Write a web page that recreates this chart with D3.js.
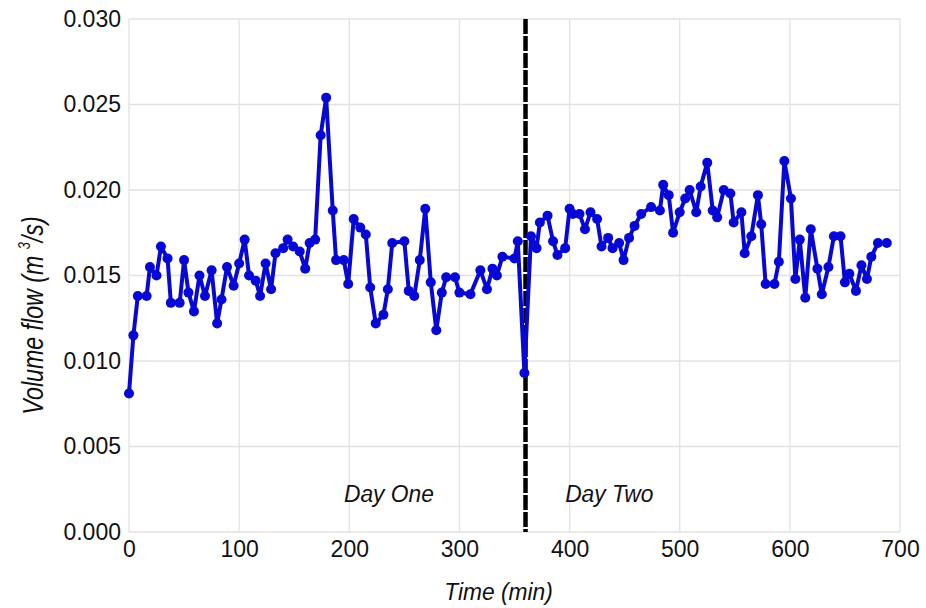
<!DOCTYPE html>
<html>
<head>
<meta charset="utf-8">
<script src="https://cdn.jsdelivr.net/npm/d3@7"></script>
<style>
  body { margin: 0; background: #fff; }
  text { font-family: "Liberation Sans", Arial, sans-serif; fill: #111; }
</style>
</head>
<body>
<div id="chart"></div>
<script>
// Time of each reading (min)
const time = [0, 4, 8, 16, 19, 25, 29, 35, 38, 46, 50, 54, 59, 64, 69, 75, 80, 84, 89, 95,
  100, 105, 109, 115, 119, 124, 129, 133, 140, 144, 149, 155, 160, 164, 169, 174, 179, 185, 188, 195,
  199, 204, 210, 215, 219, 224, 231, 235, 239, 250, 254, 259, 264, 269, 274, 279, 284, 288, 296, 300,
  310, 319, 325, 330, 334, 339, 350, 353, 359, 365, 370, 373, 380, 385, 389, 396, 400, 403, 409, 414,
  419, 425, 429, 435, 439, 445, 449, 454, 459, 465, 474, 482, 485, 490, 494, 500, 505, 509, 515, 519,
  525, 530, 534, 540, 546, 549, 556, 559, 565, 571, 574, 578, 586, 590, 595, 601, 605, 609, 614, 619,
  625, 629, 635, 640, 646, 650, 654, 660, 665, 670, 674, 680, 688];

// Volume flow (m3/s)
const flow = [0.0081, 0.0115, 0.0138, 0.0138, 0.0155, 0.0150, 0.0167, 0.0160, 0.0134, 0.0134,
  0.0159, 0.0140, 0.0129, 0.0150, 0.0138, 0.0153, 0.0122, 0.0136, 0.0155, 0.0144,
  0.0157, 0.0171, 0.0150, 0.0147, 0.0138, 0.0157, 0.0142, 0.0163, 0.0166, 0.0171,
  0.0167, 0.0164, 0.0154, 0.0169, 0.0171, 0.0232, 0.0254, 0.0188, 0.0159, 0.0159,
  0.0145, 0.0183, 0.0178, 0.0174, 0.0143, 0.0122, 0.0127, 0.0142, 0.0169, 0.0170,
  0.0141, 0.0138, 0.0159, 0.0189, 0.0146, 0.0118, 0.0140, 0.0149, 0.0149, 0.0140,
  0.0139, 0.0153, 0.0142, 0.0154, 0.0150, 0.0161, 0.0160, 0.0170, 0.0093, 0.0173,
  0.0166, 0.0181, 0.0185, 0.0170, 0.0162, 0.0166, 0.0189, 0.0186, 0.0186, 0.0177,
  0.0187, 0.0183, 0.0167, 0.0172, 0.0166, 0.0169, 0.0159, 0.0172, 0.0179, 0.0186,
  0.0190, 0.0188, 0.0203, 0.0197, 0.0175, 0.0187, 0.0195, 0.0200, 0.0187, 0.0202,
  0.0216, 0.0188, 0.0184, 0.0200, 0.0198, 0.0181, 0.0187, 0.0163, 0.0173, 0.0197,
  0.0180, 0.0145, 0.0145, 0.0158, 0.0217, 0.0195, 0.0148, 0.0171, 0.0137, 0.0177,
  0.0154, 0.0139, 0.0155, 0.0173, 0.0173, 0.0146, 0.0151, 0.0141, 0.0156, 0.0148,
  0.0161, 0.0169, 0.0169];

const xTicks = [0, 100, 200, 300, 400, 500, 600, 700];
const yTicks = [0, 0.005, 0.010, 0.015, 0.020, 0.025, 0.030];
const dayBreak = 360;
const dayLabels = [{label: "Day One", t: 236}, {label: "Day Two", t: 436}];

const W = 926, H = 608;
const margin = {top: 19, right: 26, bottom: 76, left: 129};
const width = W - margin.left - margin.right;
const height = H - margin.top - margin.bottom;

const svg = d3.select("#chart")
    .append("svg")
    .attr("width", W)
    .attr("height", H)
    .append("g")
    .attr("transform", `translate(${margin.left},${margin.top})`);

const x = d3.scaleLinear().domain([0, 700]).range([0, width]);
const y = d3.scaleLinear().domain([0, 0.030]).range([height, 0]);

// grid lines
svg.append("g")
    .selectAll("line")
    .data(xTicks)
    .enter().append("line")
    .attr("x1", d => x(d)).attr("x2", d => x(d))
    .attr("y1", 0).attr("y2", height)
    .attr("stroke", "#e2e2e2").attr("stroke-width", 1.3);

svg.append("g")
    .selectAll("line")
    .data(yTicks)
    .enter().append("line")
    .attr("x1", 0).attr("x2", width)
    .attr("y1", d => y(d)).attr("y2", d => y(d))
    .attr("stroke", "#e2e2e2").attr("stroke-width", 1.3);

// axes (labels only, no domain line)
const xAxis = svg.append("g")
    .attr("transform", `translate(0,${height})`)
    .call(d3.axisBottom(x).tickValues(xTicks).tickSize(0).tickPadding(9).tickFormat(d3.format("d")));
xAxis.select(".domain").remove();
xAxis.selectAll("text").style("font-size", "23px").style("fill", "#111");

const yAxis = svg.append("g")
    .call(d3.axisLeft(y).tickValues(yTicks).tickSize(0).tickPadding(8).tickFormat(d3.format(".3f")));
yAxis.select(".domain").remove();
yAxis.selectAll("text").style("font-size", "23px").style("fill", "#111");

// day separator
svg.append("line")
    .attr("x1", x(dayBreak)).attr("x2", x(dayBreak))
    .attr("y1", 0).attr("y2", height)
    .attr("stroke", "#000")
    .attr("stroke-width", 4.5)
    .attr("stroke-dasharray", "15,2");

// data line + markers
const pts = time.map((t, i) => ({t: t, v: flow[i]}));

svg.append("path")
    .datum(pts)
    .attr("fill", "none")
    .attr("stroke", "#0808d6")
    .attr("stroke-width", 4)
    .attr("stroke-linejoin", "round")
    .attr("d", d3.line().x(d => x(d.t)).y(d => y(d.v)));

svg.selectAll(".pt")
    .data(pts)
    .enter().append("circle")
    .attr("class", "pt")
    .attr("cx", d => x(d.t))
    .attr("cy", d => y(d.v))
    .attr("r", 5)
    .attr("fill", "#0808d6");

// day labels
svg.selectAll(".day")
    .data(dayLabels)
    .enter().append("text")
    .attr("class", "day")
    .attr("transform", d => `translate(${x(d.t)},${height - 30}) scale(0.95,1)`)
    .attr("text-anchor", "middle")
    .style("font-size", "24px")
    .style("font-style", "italic")
    .text(d => d.label);

// x axis title
svg.append("text")
    .attr("transform", `translate(${width / 2 - 16},${height + 68}) scale(0.95,1)`)
    .attr("text-anchor", "middle")
    .style("font-size", "24px")
    .style("font-style", "italic")
    .text("Time (min)");

// y axis title
const yt = svg.append("text")
    .attr("transform", `translate(-86,${height / 2 + 40}) rotate(-90) scale(0.8,1)`)
    .attr("text-anchor", "middle")
    .style("font-size", "29px")
    .style("font-style", "italic");
yt.append("tspan").text("Volume flow (m ");
yt.append("tspan").attr("dy", -13).style("font-size", "16px").text("3");
yt.append("tspan").attr("dy", 13).text("/s)");
</script>
</body>
</html>
